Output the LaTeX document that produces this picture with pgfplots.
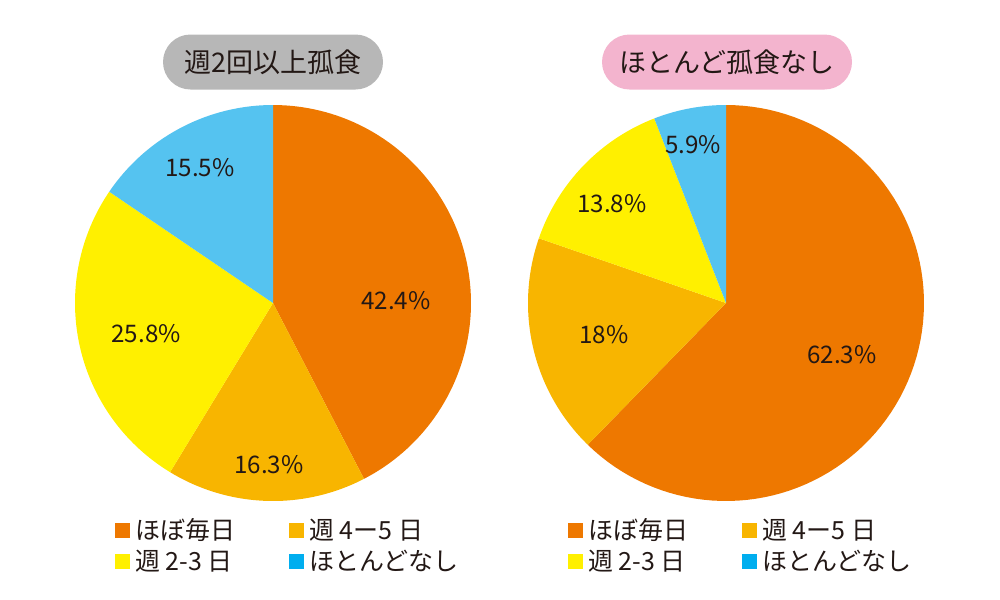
\documentclass[border=0pt]{standalone}
\usepackage{pgfplots}
\pgfplotsset{compat=1.18}
\usepackage{pgfplotstable}
\usepackage{fontspec}
\setmainfont{Noto Sans CJK JP}
\definecolor{cOr}{HTML}{EE7800}
\definecolor{cGo}{HTML}{F8B500}
\definecolor{cYe}{HTML}{FFF000}
\definecolor{cBl}{HTML}{55C3F0}
\definecolor{cBlL}{HTML}{00AEEF}
\definecolor{cGray}{HTML}{B7B7B7}
\definecolor{cPink}{HTML}{F3B4CE}
\definecolor{txt}{HTML}{231815}

% percentages, clockwise from 12 o'clock; label position in axis units
\pgfplotstableread{
pct col lx ly
42.4 cOr 0.621 0.01
16.3 cGo -0.02 -0.818
25.8 cYe -0.641 -0.157
15.5 cBl -0.369 0.682
}\lefttab
\pgfplotstableread{
pct col lx ly
62.3 cOr 0.586 -0.263
18 cGo -0.616 -0.162
13.8 cYe -0.576 0.50
5.9 cBl -0.167 0.798
}\righttab

\newcommand{\labfont}{\fontsize{14.5pt}{16pt}\selectfont}
\newcommand{\drawpie}[1]{%
  \pgfplotstablegetrowsof{#1}\pgfmathtruncatemacro\nrows{\pgfplotsretval-1}%
  \def\cum{0}%
  \pgfplotsforeachungrouped \i in {0,...,\nrows}{%
    \pgfplotstablegetelem{\i}{pct}\of{#1}\let\val\pgfplotsretval
    \pgfplotstablegetelem{\i}{col}\of{#1}\let\col\pgfplotsretval
    \pgfplotstablegetelem{\i}{lx}\of{#1}\let\lx\pgfplotsretval
    \pgfplotstablegetelem{\i}{ly}\of{#1}\let\ly\pgfplotsretval
    \pgfmathsetmacro\aS{90-3.6*\cum}%
    \pgfmathsetmacro\cum{\cum+\val}%
    \pgfmathsetmacro\aE{90-3.6*\cum}%
    \edef\tmp{\noexpand\addplot[fill=\col, draw=none, domain=\aE:\aS, samples=90, variable=\noexpand\t] ({cos(\noexpand\t)},{sin(\noexpand\t)}) -- (axis cs:0,0) -- cycle;
      \noexpand\node[font=\noexpand\labfont, text=txt] at (axis cs:\lx,\ly) {\val\noexpand\%};}%
    \tmp
  }}

\newcommand{\legitem}[4]{% x square center, y, color, text
  \fill[#3] ({#1-4.5pt},{#2-4.5pt}) rectangle ({#1+4.5pt},{#2+4.5pt});
  \node[anchor=west, inner sep=0pt, font=\fontsize{15pt}{17pt}\selectfont, text=txt] at ({#1+7.5pt},#2) {#4};}

\begin{document}
\begin{tikzpicture}
\useasboundingbox (0pt,0pt) rectangle (600pt,-359.4pt);

\begin{axis}[at={(163.8pt,-181.8pt)}, anchor=center, width=237.6pt, height=237.6pt,
  scale only axis, hide axis, xmin=-1, xmax=1, ymin=-1, ymax=1, clip=false]
\drawpie{\lefttab}
\end{axis}

\begin{axis}[at={(435.6pt,-181.8pt)}, anchor=center, width=237.6pt, height=237.6pt,
  scale only axis, hide axis, xmin=-1, xmax=1, ymin=-1, ymax=1, clip=false]
\drawpie{\righttab}
\end{axis}

\node[fill=cGray, rounded corners=16.5pt, minimum width=132pt, minimum height=33pt, inner sep=0pt,
  font=\fontsize{16.2pt}{18pt}\selectfont, text=txt] at (163.8pt,-37.2pt) {週2回以上孤食};
\node[fill=cPink, rounded corners=16.5pt, minimum width=150pt, minimum height=33pt, inner sep=0pt,
  font=\fontsize{16.2pt}{18pt}\selectfont, text=txt] at (436.2pt,-37.2pt) {ほとんど孤食なし};

\legitem{73.5pt}{-318.3pt}{cOr}{ほぼ毎日}
\legitem{177.9pt}{-318.3pt}{cGo}{週 4ー5 日}
\legitem{73.5pt}{-336.6pt}{cYe}{週 2-3 日}
\legitem{177.9pt}{-336.6pt}{cBlL}{ほとんどなし}

\legitem{345.3pt}{-318.3pt}{cOr}{ほぼ毎日}
\legitem{449.7pt}{-318.3pt}{cGo}{週 4ー5 日}
\legitem{345.3pt}{-336.6pt}{cYe}{週 2-3 日}
\legitem{449.7pt}{-336.6pt}{cBlL}{ほとんどなし}
\end{tikzpicture}
\end{document}
